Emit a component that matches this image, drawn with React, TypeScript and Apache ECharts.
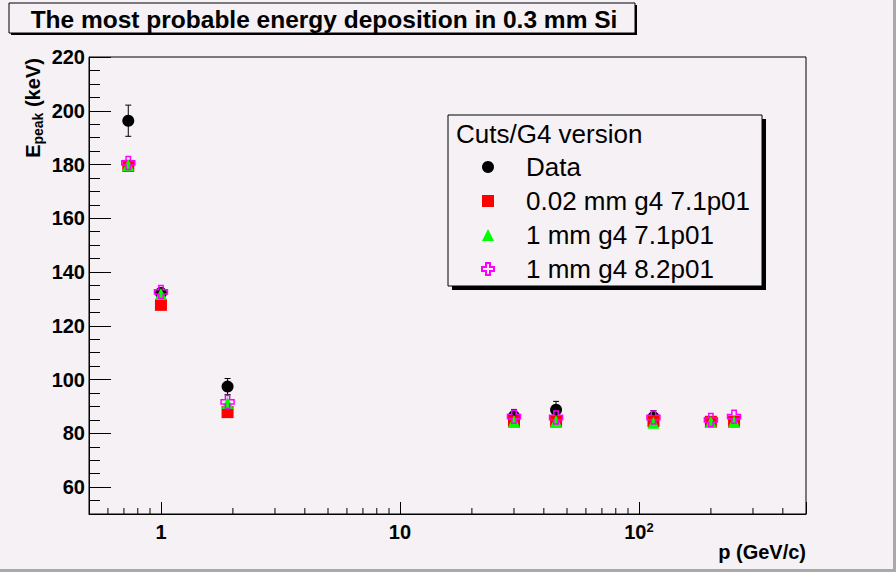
import React, { useEffect, useRef } from 'react';
import * as echarts from 'echarts';

// ---- data ----
const dataMomenta = [0.73, 1, 1.9, 30, 45, 115];
const dataPeak = [196.3, 132.2, 97.4, 86.4, 88.8, 86.0];
const dataErr = [5.8, 2.0, 3.0, 2.5, 3.1, 2.5];

const simMomenta = [0.73, 1, 1.9, 30, 45, 115, 200, 250];
const peakCut002g471 = [179.5, 127.8, 87.9, 84.4, 84.4, 84.6, 84.3, 84.4];
const peakCut1g471 = [179.8, 131.8, 91.3, 84.5, 84.5, 83.9, 84.2, 84.4];
const peakCut1g482 = [180.6, 132.6, 91.7, 86.2, 85.9, 85.9, 85.0, 86.2];

const seriesNames = ['Data', '0.02 mm g4 7.1p01', '1 mm g4 7.1p01', '1 mm g4 8.2p01'];

// ---- axes ----
const X_MIN = 0.5;
const X_MAX = 500;
const Y_MIN = 50;
const Y_MAX = 220;
const xTickValues = [1, 10, 100];
const xTickLabels = ['{n|1}', '{n|10}', '{n|10}{s|2}'];
const xMinorTicks = [0.6, 0.7, 0.8, 0.9, 2, 3, 4, 5, 6, 7, 8, 9, 20, 30, 40, 50, 60, 70, 80, 90, 200, 300, 400];
const yMajorTicks = [60, 80, 100, 120, 140, 160, 180, 200, 220];
const yMinorTicks = [55, 65, 70, 75, 85, 90, 95, 105, 110, 115, 125, 130, 135, 145, 150, 155, 165, 170, 175, 185, 190, 195, 205, 210, 215];

const BG = '#f5f1f5';
const FONT = '"Liberation Sans", Arial, Helvetica, sans-serif';
const CROSS = 'path://M4,0 L8,0 L8,4 L12,4 L12,8 L8,8 L8,12 L4,12 L4,8 L0,8 L0,4 L4,4 Z';

function buildOption(): any {
  const pairs = (xs: number[], ys: number[]) => xs.map((x, i) => [x, ys[i]]);
  return {
    animation: false,
    backgroundColor: BG,
    grid: {
      left: 89,
      top: 57,
      width: 717,
      height: 457,
      show: true,
      borderColor: '#000',
      borderWidth: 1,
      backgroundColor: 'transparent',
    },
    xAxis: {
      type: 'log',
      logBase: 10,
      min: X_MIN,
      max: X_MAX,
      axisLine: { show: true, lineStyle: { color: '#000', width: 1 } },
      axisTick: { show: true, inside: true, length: 12, lineStyle: { color: '#000' } },
      splitLine: { show: false },
      minorTick: { show: false },
      axisLabel: {
        margin: 7,
        color: '#000',
        fontFamily: FONT,
        fontWeight: 'bold',
        fontSize: 20,
        formatter: (v: number) => {
          const idx = xTickValues.findIndex((t) => Math.abs(Math.log10(v) - Math.log10(t)) < 1e-6);
          return idx >= 0 ? xTickLabels[idx] : '';
        },
        rich: {
          n: { fontFamily: FONT, fontWeight: 'bold', fontSize: 20, lineHeight: 22, color: '#000' },
          s: { fontFamily: FONT, fontWeight: 'bold', fontSize: 13, lineHeight: 12, verticalAlign: 'top', color: '#000' },
        },
      },
    },
    yAxis: [
      {
        type: 'value',
        min: Y_MIN,
        max: Y_MAX,
        interval: 10,
        axisLine: { show: true, lineStyle: { color: '#000', width: 1 } },
        axisTick: { show: true, inside: true, length: 22, lineStyle: { color: '#000' }, customValues: yMajorTicks },
        axisLabel: {
          customValues: yMajorTicks,
          margin: 4,
          color: '#000',
          fontFamily: FONT,
          fontWeight: 'bold',
          fontSize: 20,
        },
        splitLine: { show: false },
      },
      {
        type: 'value',
        min: Y_MIN,
        max: Y_MAX,
        interval: 5,
        position: 'left',
        axisLine: { show: false },
        axisTick: { show: true, inside: true, length: 11, lineStyle: { color: '#000' }, customValues: yMinorTicks },
        axisLabel: { show: false },
        splitLine: { show: false },
      },
    ],
    legend: {
      data: seriesNames,
      orient: 'vertical',
      left: 481,
      top: 154,
      padding: 0,
      itemGap: 8,
      itemWidth: 12,
      itemHeight: 12,
      selectedMode: false,
      z: 10,
      textStyle: {
        fontFamily: FONT,
        fontSize: 26,
        lineHeight: 24,
        color: '#000',
        padding: [0, 0, 0, 27],
      },
    },
    graphic: [
      // canvas bevel
      { type: 'rect', z: 0, shape: { x: 893, y: 0, width: 3, height: 572 }, style: { fill: '#a9a9a9' }, silent: true },
      { type: 'rect', z: 0, shape: { x: 0, y: 569, width: 896, height: 3 }, style: { fill: '#a9a9a9' }, silent: true },
      // title box
      { type: 'rect', z: 1, shape: { x: 11, y: 5, width: 626, height: 30 }, style: { fill: '#000' }, silent: true },
      { type: 'rect', z: 2, shape: { x: 9, y: 3, width: 626, height: 30 }, style: { fill: BG, stroke: '#000', lineWidth: 1 }, silent: true },
      {
        type: 'text',
        z: 3,
        x: 324,
        y: 19,
        style: {
          text: 'The most probable energy deposition in 0.3 mm Si',
          fontFamily: FONT,
          fontWeight: 'bold',
          fontSize: 24.5,
          fill: '#000',
          align: 'center',
          verticalAlign: 'middle',
        },
        silent: true,
      },
      // legend box
      { type: 'rect', z: 5, shape: { x: 452, y: 119, width: 314, height: 171 }, style: { fill: '#000' }, silent: true },
      { type: 'rect', z: 6, shape: { x: 448, y: 115, width: 314, height: 171 }, style: { fill: BG, stroke: '#000', lineWidth: 1 }, silent: true },
      {
        type: 'text',
        z: 7,
        x: 456,
        y: 134,
        style: {
          text: 'Cuts/G4 version',
          fontFamily: FONT,
          fontSize: 26,
          fill: '#000',
          align: 'left',
          verticalAlign: 'middle',
        },
        silent: true,
      },
      // y axis title
      {
        type: 'text',
        z: 7,
        x: 33,
        y: 108,
        rotation: Math.PI / 2,
        style: {
          text: '{b|E}{s|peak}{b| (keV)}',
          align: 'center',
          verticalAlign: 'middle',
          rich: {
            b: { fontFamily: FONT, fontWeight: 'bold', fontSize: 20, lineHeight: 24, verticalAlign: 'middle', fill: '#000' },
            s: { fontFamily: FONT, fontWeight: 'bold', fontSize: 14, lineHeight: 13, verticalAlign: 'bottom', fill: '#000' },
          },
        },
        silent: true,
      },
      // x axis title
      {
        type: 'text',
        z: 7,
        x: 806,
        y: 552,
        style: {
          text: 'p (GeV/c)',
          fontFamily: FONT,
          fontWeight: 'bold',
          fontSize: 20,
          fill: '#000',
          align: 'right',
          verticalAlign: 'middle',
        },
        silent: true,
      },
    ],
    series: [
      {
        type: 'custom',
        name: 'xMinorTicks',
        coordinateSystem: 'cartesian2d',
        silent: true,
        z: 3,
        data: xMinorTicks.map((v) => [v, Y_MIN]),
        renderItem: (_p: any, api: any) => {
          const pt = api.coord([api.value(0), api.value(1)]);
          return {
            type: 'line',
            shape: { x1: pt[0], y1: pt[1], x2: pt[0], y2: pt[1] - 6 },
            style: { stroke: '#000', lineWidth: 1 },
          };
        },
      },
      {
        type: 'custom',
        name: 'dataErrors',
        coordinateSystem: 'cartesian2d',
        silent: true,
        z: 3,
        data: dataMomenta.map((x, i) => [x, dataPeak[i], dataErr[i]]),
        encode: { x: 0, y: 1 },
        renderItem: (_p: any, api: any) => {
          const x = api.value(0);
          const y = api.value(1);
          const e = api.value(2);
          const top = api.coord([x, y + e]);
          const bot = api.coord([x, y - e]);
          const st = { stroke: '#000', lineWidth: 1 };
          return {
            type: 'group',
            children: [
              { type: 'line', shape: { x1: top[0], y1: top[1], x2: bot[0], y2: bot[1] }, style: st },
              { type: 'line', shape: { x1: top[0] - 3, y1: top[1], x2: top[0] + 3, y2: top[1] }, style: st },
              { type: 'line', shape: { x1: bot[0] - 3, y1: bot[1], x2: bot[0] + 3, y2: bot[1] }, style: st },
            ],
          };
        },
      },
      {
        type: 'scatter',
        name: seriesNames[0],
        z: 4,
        symbol: 'circle',
        symbolSize: 12,
        itemStyle: { color: '#000', opacity: 1 },
        data: pairs(dataMomenta, dataPeak),
      },
      {
        type: 'scatter',
        name: seriesNames[1],
        z: 5,
        symbol: 'rect',
        symbolSize: 12,
        itemStyle: { color: '#ff0000', opacity: 1 },
        data: pairs(simMomenta, peakCut002g471),
      },
      {
        type: 'scatter',
        name: seriesNames[2],
        z: 6,
        symbol: 'triangle',
        symbolSize: 12,
        itemStyle: { color: '#00ff00', opacity: 1 },
        data: pairs(simMomenta, peakCut1g471),
      },
      {
        type: 'scatter',
        name: seriesNames[3],
        z: 7,
        symbol: CROSS,
        symbolSize: 13,
        itemStyle: { color: 'rgba(0,0,0,0)', borderColor: '#ff00ff', borderWidth: 1.5, opacity: 1 },
        data: pairs(simMomenta, peakCut1g482),
      },
    ],
  };
}

export default function App() {
  const ref = useRef<HTMLDivElement>(null);
  useEffect(() => {
    if (!ref.current) return;
    const chart = echarts.init(ref.current, null, { renderer: 'svg' });
    chart.setOption(buildOption());
    return () => chart.dispose();
  }, []);
  return (
    <div
      ref={ref}
      style={{ position: 'fixed', left: 0, top: 0, width: 896, height: 572, background: BG }}
    />
  );
}
